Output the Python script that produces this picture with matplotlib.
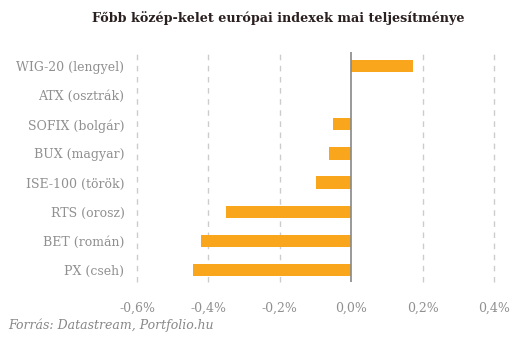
import matplotlib
matplotlib.use('Agg')
import matplotlib.pyplot as plt

# Adatok (napi változás, %)
indexek = ['PX (cseh)', 'BET (román)', 'RTS (orosz)', 'ISE-100 (török)',
           'BUX (magyar)', 'SOFIX (bolgár)', 'ATX (osztrák)', 'WIG-20 (lengyel)']
valtozas = [-0.442, -0.422, -0.35, -0.10, -0.062, -0.05, 0.0, 0.173]
xticks = [-0.6, -0.4, -0.2, 0.0, 0.2, 0.4]

fig = plt.figure(figsize=(5.3, 3.41), dpi=100)
ax = fig.add_axes([137 / 530, 1 - 282 / 341, (494 - 137) / 530, (282 - 52) / 341])

pos = list(range(len(indexek)))
ax.barh(pos, valtozas, height=0.42, color='#F9A61C', zorder=3)

ax.set_xlim(-0.6, 0.4)
ax.set_ylim(-0.41, 7.48)
ax.set_xticks(xticks)
ax.set_xticklabels([f"{v:.1f}%".replace('.', ',') for v in xticks])
ax.set_yticks(pos)
ax.set_yticklabels(indexek)

# rácsvonalak szaggatottan, a nulla vonal folytonos
for x in xticks:
    if x != 0:
        ax.axvline(x, color='#cccccc', lw=1, ls=(0, (4, 4)), zorder=1, clip_on=False)
ax.axvline(0, color='#888888', lw=1.2, zorder=4)

for s in ax.spines.values():
    s.set_visible(False)
ax.tick_params(axis='both', length=0, colors='#909090', labelsize=9)
ax.tick_params(axis='x', pad=14)
ax.tick_params(axis='y', pad=9)
for lbl in ax.get_xticklabels() + ax.get_yticklabels():
    lbl.set_family('DejaVu Serif')

fig.text(278 / 530, 1 - 18 / 341, 'Főbb közép-kelet európai indexek mai teljesítménye',
         ha='center', va='center', fontsize=9.2, fontweight='bold',
         color='#2b2020', family='DejaVu Serif')
fig.text(8 / 530, 1 - 325 / 341, 'Forrás: Datastream, Portfolio.hu',
         ha='left', va='center', fontsize=9, style='italic',
         color='#888888', family='DejaVu Serif')

fig.savefig('out.png', dpi=100)
